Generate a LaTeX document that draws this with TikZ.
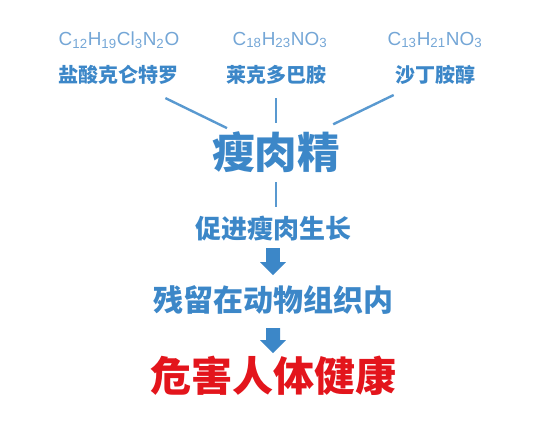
\documentclass[tikz,border=0pt]{standalone}
\usepackage{fontspec}
\setmainfont{Noto Sans CJK SC}
\newfontfamily\frmfont{Liberation Sans}
\usetikzlibrary{calc,arrows.meta}
\definecolor{lblue}{HTML}{74A6D6}
\definecolor{mblue}{HTML}{3C87C8}
\definecolor{hred}{HTML}{E3151C}

\begin{document}
\begin{tikzpicture}[x=0.75pt, y=-0.75pt, frm/.style={text=lblue, font=\frmfont\fontsize{14.2}{16}\selectfont
}, nm/.style={text=mblue, font=\bfseries\fontsize{15}{17}\selectfont
}, ln/.style={draw=mblue!85, line width=1.8pt
}, blk/.style={draw=mblue, line width=10.5pt, -{Triangle[width=18.75pt, length=9.75pt]}
}]
\useasboundingbox (0,0) rectangle (535,428);

\node[frm] (f1) at (119,40){C\textsubscript{12}H\textsubscript{19}Cl\textsubscript{3}N\textsubscript{2}O};
\node[frm] (f2) at (280,40){C\textsubscript{18}H\textsubscript{23}NO\textsubscript{3}};
\node[frm] (f3) at (435,40){C\textsubscript{13}H\textsubscript{21}NO\textsubscript{3}};
\node[nm] (n1) at (118,75){盐酸克仑特罗};
\node[nm] (n2) at (276,75){莱克多巴胺};
\node[nm] (n3) at (435,75){沙丁胺醇};
\node[text=mblue, font=\bfseries\fontsize{32}{36}\selectfont] (lean) at (276,152){瘦肉精};
\node[text=mblue, font=\bfseries\fontsize{19.5}{22}\selectfont] (grow) at (273,229){促进瘦肉生长};
\node[text=mblue, font=\bfseries\fontsize{22.5}{26}\selectfont] (stay) at (273,300){残留在动物组织内};
\node[text=hred, font=\bfseries\fontsize{30.75}{34}\selectfont] (harm) at (273,376){危害人体健康};

\foreach \n/\a/\b in {n1/.3/.69,n2/.3/.62,n3/.26/.64}{\draw[ln] ($(\n)!\a!(lean)$) -- ($(\n)!\b!(lean)$);}
\draw[ln] ($(lean)!.39!(lean|-grow)$) -- ($(lean)!.71!(lean|-grow)$);
\draw[blk] ($(grow)!.27!(stay)$) -- ($(grow)!.65!(stay)$);
\draw[blk] ($(stay)!.37!(harm)$) -- ($(stay)!.70!(harm)$);
\end{tikzpicture}
\end{document}
